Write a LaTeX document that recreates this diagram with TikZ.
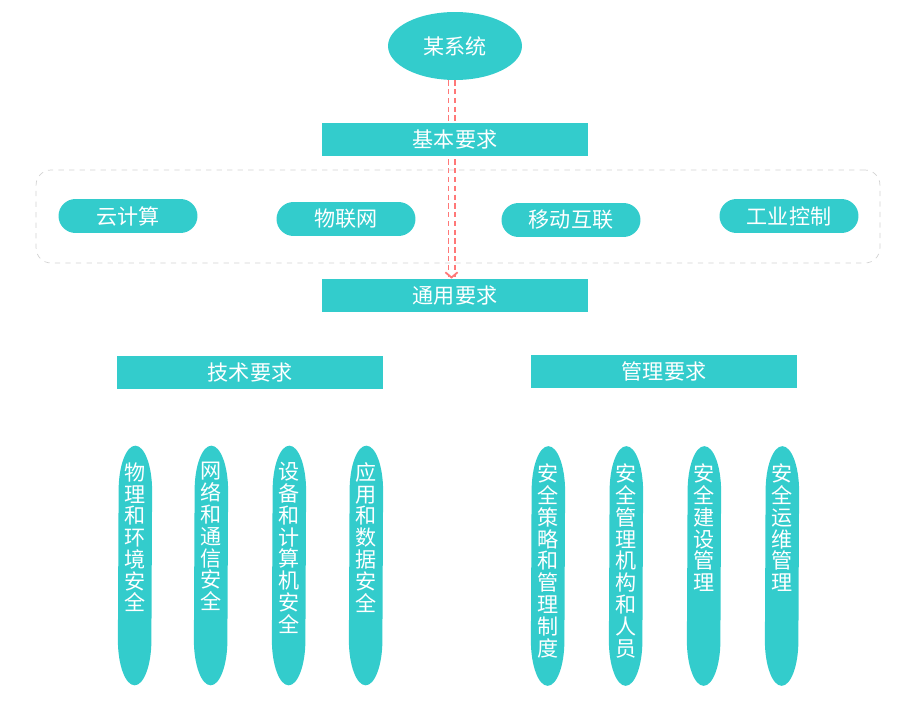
\documentclass[tikz,border=0pt]{standalone}
\usepackage{fontspec}
\newfontfamily\cjk{Noto Sans CJK SC}
\definecolor{teal}{RGB}{51,204,204}
\definecolor{linkred}{RGB}{255,120,120}
\definecolor{boxgray}{RGB}{210,210,210}
\usetikzlibrary{arrows.meta,shapes.geometric,positioning,backgrounds}

\begin{document}
\begin{tikzpicture}[
  x=0.02cm,
  y=-0.02cm,
  whitetext/.style={
    font=\cjk\fontsize{12}{13}\selectfont,
    text=white,
    inner sep=0pt
  },
  sysnode/.style={ellipse,fill=teal,whitetext,minimum width=2.68cm,minimum height=1.36cm},
  reqbar/.style={rectangle,fill=teal,whitetext,minimum width=5.32cm,minimum height=0.66cm},
  scenepill/.style={rectangle,fill=teal,whitetext,rounded corners=0.34cm,
    minimum width=2.78cm,minimum height=0.68cm},
  groupbox/.style={rectangle,draw=boxgray,dashed,rounded corners=0.3cm,
    minimum width=16.88cm,minimum height=1.86cm},
  itempill/.style={rectangle,inner sep=0pt,
    minimum width=0.67cm,minimum height=4.78cm},
  pillfill/.style={fill=teal},
  itemtext/.style={whitetext,align=center,anchor=north,
    font=\cjk\fontsize{12}{12.4}\selectfont},
  link/.style={draw=linkred,line width=0.035cm,double,double distance=0.09cm,
    dash pattern=on 3pt off 2pt,-{Straight Barb[length=3pt,width=7pt]}}
]

\useasboundingbox (0,0) rectangle (920,719);

% Top system and basic requirement
\node[sysnode] (sys) at (455,46) {某系统};
\node[reqbar] (basic) at (455,139.5) {基本要求};

% Extended scenarios
\node[groupbox] (scenes) at (458,216.5) {};
\node[scenepill] (cloud) at (128,216) {云计算};
\node[scenepill] (iot) at (346,219) {物联网};
\node[scenepill] (mobile) at (571,220) {移动互联};
\node[scenepill] (ics) at (789,216) {工业控制};

% General requirement
\node[reqbar] (general) at (455,295.5) {通用要求};

% Link from system down to general requirement
\begin{scope}[on background layer]
\draw[link] ([xshift=-0.07cm]sys.south) -- ([xshift=-0.07cm]general.north);
\end{scope}

% Two branches
\node[reqbar] (tech) at (250,372.5) {技术要求};
\node[reqbar] (mgmt) at (664,371.5) {管理要求};

% Technical items
\foreach \x/\t [count=\i] in {
    135/{物\\理\\和\\环\\境\\安\\全},
    211/{网\\络\\和\\通\\信\\安\\全},
    289/{设\\备\\和\\计\\算\\机\\安\\全},
    366/{应\\用\\和\\数\\据\\安\\全}} {
  \node[itempill] (tech\i) at (\x,565.5) {};
  \fill[pillfill] ([yshift=-0.9cm]tech\i.north east)
    arc[start angle=0,end angle=180,x radius=0.335cm,y radius=0.9cm]
    -- ([yshift=0.9cm]tech\i.south west)
    arc[start angle=180,end angle=360,x radius=0.335cm,y radius=0.9cm] -- cycle;
  \node[itemtext,below=0.33cm of tech\i.north] {\t};
}

% Management items
\foreach \x/\t [count=\i] in {
    548/{安\\全\\策\\略\\和\\管\\理\\制\\度},
    626/{安\\全\\管\\理\\机\\构\\和\\人\\员},
    704/{安\\全\\建\\设\\管\\理},
    782/{安\\全\\运\\维\\管\\理}} {
  \node[itempill] (mgmt\i) at (\x,566) {};
  \fill[pillfill] ([yshift=-0.9cm]mgmt\i.north east)
    arc[start angle=0,end angle=180,x radius=0.335cm,y radius=0.9cm]
    -- ([yshift=0.9cm]mgmt\i.south west)
    arc[start angle=180,end angle=360,x radius=0.335cm,y radius=0.9cm] -- cycle;
  \node[itemtext,below=0.35cm of mgmt\i.north] {\t};
}

\end{tikzpicture}
\end{document}
